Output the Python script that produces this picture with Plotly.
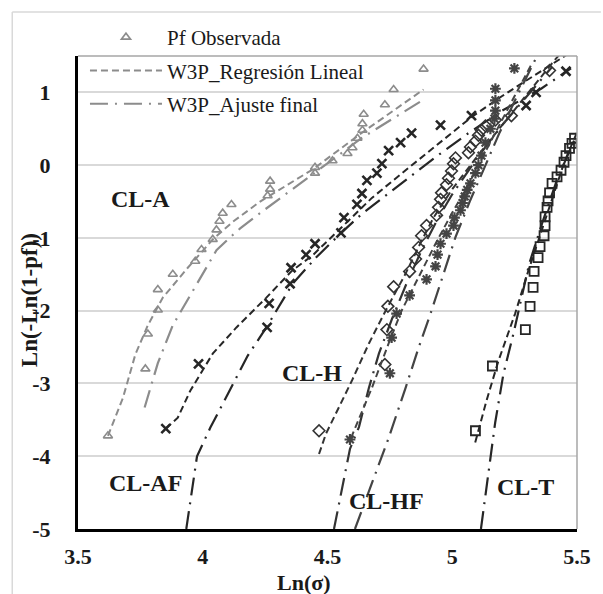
import plotly.graph_objects as go

# ---------------- data ----------------
# CL-A  (gray triangles)
cla_x = [3.62, 3.77, 3.78, 3.82, 3.82, 3.88, 3.97, 3.995, 4.04, 4.055, 4.067, 4.08, 4.115,
         4.26, 4.27, 4.27, 4.45, 4.45, 4.52, 4.58, 4.60, 4.62, 4.64, 4.64, 4.645, 4.73, 4.765, 4.885]
cla_y = [-3.72, -2.80, -2.32, -1.99, -1.71, -1.50, -1.32, -1.16, -1.02, -0.89, -0.77, -0.66, -0.54,
         -0.42, -0.33, -0.22, -0.11, -0.03, 0.06, 0.16, 0.24, 0.37, 0.48, 0.57, 0.70, 0.83, 1.04, 1.32]
cla_reg_x = [3.62, 3.68, 3.73, 3.78, 3.84, 3.94, 4.04, 4.12, 4.23, 4.44, 4.64, 4.885]
cla_reg_y = [-3.72, -3.20, -2.60, -2.20, -1.82, -1.41, -1.02, -0.78, -0.50, -0.06, 0.45, 1.04]
cla_fin_x = [3.767, 3.807, 3.82, 3.88, 3.96, 4.055, 4.107, 4.15, 4.245, 4.44, 4.64, 4.88]
cla_fin_y = [-3.33, -2.85, -2.72, -2.20, -1.72, -1.17, -1.00, -0.87, -0.62, -0.12, 0.38, 0.89]

# CL-AF (black x)
claf_x = [3.852, 3.983, 4.258, 4.266, 4.35, 4.354, 4.414, 4.45, 4.554, 4.566, 4.618, 4.638, 4.658,
          4.698, 4.718, 4.745, 4.793, 4.837, 4.953, 5.077, 5.296, 5.336, 5.456]
claf_y = [-3.62, -2.73, -2.23, -1.90, -1.63, -1.41, -1.23, -1.08, -0.93, -0.72, -0.54, -0.39, -0.21,
          -0.11, 0.02, 0.20, 0.31, 0.44, 0.55, 0.68, 0.82, 1.00, 1.29]
claf_reg_x = [3.852, 3.9, 3.95, 4.04, 4.135, 4.255, 4.358, 4.44, 4.558, 4.678, 4.813, 4.945, 5.077, 5.2, 5.33, 5.46]
claf_reg_y = [-3.62, -3.47, -3.10, -2.59, -2.23, -1.82, -1.45, -1.24, -0.85, -0.45, -0.07, 0.30, 0.66, 0.95, 1.23, 1.52]
claf_fin_x = [3.934, 3.977, 4.03, 4.107, 4.18, 4.255, 4.36, 4.454, 4.558, 4.638, 4.705, 4.813, 4.933,
              5.065, 5.2, 5.356, 5.476]
claf_fin_y = [-5.0, -4.0, -3.61, -3.10, -2.62, -2.23, -1.63, -1.27, -0.92, -0.67, -0.49, -0.21, 0.11,
              0.44, 0.75, 1.05, 1.33]

# CL-H (diamonds)
clh_x = [4.466, 4.73, 4.738, 4.742, 4.765, 4.829, 4.853, 4.865, 4.877, 4.897, 4.937, 4.945, 4.953, 4.957,
         4.977, 4.985, 4.997, 5.005, 5.013, 5.065, 5.073, 5.093, 5.105, 5.117, 5.133, 5.173, 5.237, 5.39]
clh_y = [-3.65, -2.74, -2.26, -1.94, -1.67, -1.46, -1.29, -1.13, -0.97, -0.83, -0.69, -0.58, -0.47, -0.38,
         -0.27, -0.18, -0.08, 0.02, 0.10, 0.17, 0.25, 0.33, 0.41, 0.48, 0.54, 0.62, 0.68, 1.30]
clh_reg_x = [4.466, 4.494, 4.598, 4.666, 4.733, 4.813, 4.877, 4.925, 5.0, 5.1, 5.2, 5.3, 5.4, 5.43]
clh_reg_y = [-3.97, -3.69, -2.96, -2.45, -2.00, -1.49, -1.04, -0.72, -0.33, 0.12, 0.55, 0.98, 1.40, 1.52]
clh_fin_x = [4.526, 4.566, 4.59, 4.626, 4.666, 4.706, 4.76, 4.82, 4.88, 4.94, 5.0, 5.1, 5.2, 5.3, 5.4]
clh_fin_y = [-5.0, -4.34, -3.90, -3.60, -3.06, -2.59, -2.10, -1.60, -1.15, -0.75, -0.40, 0.10, 0.55, 0.95, 1.35]

# CL-HF (asterisks)
clhf_x = [4.59, 4.75, 4.757, 4.777, 4.829, 4.897, 4.933, 4.941, 4.953, 4.977, 5.005, 5.009, 5.033, 5.041,
          5.05, 5.06, 5.073, 5.093, 5.105, 5.117, 5.133, 5.153, 5.169, 5.173, 5.173, 5.173, 5.249]
clhf_y = [-3.77, -2.86, -2.37, -2.04, -1.79, -1.57, -1.39, -1.23, -1.08, -0.94, -0.83, -0.72, -0.62, -0.52,
          -0.43, -0.34, -0.25, -0.11, 0.0, 0.13, 0.31, 0.50, 0.64, 0.75, 0.89, 1.05, 1.33]
clhf_reg_x = [4.594, 4.678, 4.745, 4.797, 4.865, 4.933, 4.997, 5.06, 5.12, 5.18, 5.25, 5.32]
clhf_reg_y = [-3.75, -3.06, -2.45, -2.00, -1.54, -1.08, -0.67, -0.30, 0.10, 0.50, 0.95, 1.40]
clhf_fin_x = [4.61, 4.686, 4.745, 4.813, 4.865, 4.913, 4.973, 5.013, 5.07, 5.13, 5.19, 5.26, 5.34]
clhf_fin_y = [-5.0, -4.30, -3.75, -3.06, -2.51, -2.04, -1.41, -0.99, -0.50, -0.02, 0.45, 0.95, 1.50]

# CL-T (squares)
clt_x = [5.093, 5.161, 5.293, 5.312, 5.324, 5.328, 5.344, 5.352, 5.368, 5.372, 5.372, 5.38, 5.384,
         5.39, 5.40, 5.42, 5.436, 5.448, 5.456, 5.47, 5.48, 5.49]
clt_y = [-3.65, -2.76, -2.26, -1.94, -1.68, -1.46, -1.27, -1.12, -0.97, -0.83, -0.71, -0.58, -0.49,
         -0.38, -0.25, -0.16, -0.07, 0.04, 0.13, 0.23, 0.30, 0.37]
clt_reg_x = [5.092, 5.137, 5.185, 5.252, 5.305, 5.344, 5.40, 5.45, 5.50]
clt_reg_y = [-3.81, -3.24, -2.69, -2.04, -1.45, -1.04, -0.45, 0.05, 0.45]
clt_fin_x = [5.115, 5.154, 5.172, 5.205, 5.245, 5.308, 5.36, 5.42, 5.49]
clt_fin_y = [-5.0, -4.0, -3.54, -2.87, -2.32, -1.36, -0.80, -0.20, 0.35]

# text labels
label_text = ["CL-A", "CL-H", "CL-AF", "CL-HF", "CL-T"]
label_x = [3.75, 4.436, 3.77, 4.735, 5.295]
label_y = [-0.47, -2.85, -4.37, -4.62, -4.42]

legend_names = ["Pf Observada", "W3P_Regresión Lineal", "W3P_Ajuste final"]

x_ticks = [3.5, 4, 4.5, 5, 5.5]
y_ticks = [-5, -4, -3, -2, -1, 0, 1]

# ---------------- styling ----------------
W, H = 603, 594
L, R, T, B = 78, 579, 56, 529
SERIF = "Liberation Serif"
REG_DASH = "7px,4px"
FIN_DASH = "18px,7px,2px,7px"


def px_x(p):
    return (p - L) / (R - L)


def px_y(p):
    return (B - p) / (B - T)


fig = go.Figure()

series = [
    # (obs x, obs y, reg x, reg y, fin x, fin y, color, symbol, size, lw)
    (cla_x, cla_y, cla_reg_x, cla_reg_y, cla_fin_x, cla_fin_y, "#8c8c8c", "triangle-up-open", 8, 1.6),
    (claf_x, claf_y, claf_reg_x, claf_reg_y, claf_fin_x, claf_fin_y, "#262626", "x-thin-open", 9, 2.6),
    (clh_x, clh_y, clh_reg_x, clh_reg_y, clh_fin_x, clh_fin_y, "#333333", "diamond-open", 9, 1.6),
    (clhf_x, clhf_y, clhf_reg_x, clhf_reg_y, clhf_fin_x, clhf_fin_y, "#444444", "asterisk-open", 9, 2.2),
    (clt_x, clt_y, clt_reg_x, clt_reg_y, clt_fin_x, clt_fin_y, "#262626", "square-open", 9, 1.8),
]

for i, (ox, oy, rx, ry, fx, fy, col, sym, sz, mlw) in enumerate(series):
    first = i == 0
    fig.add_trace(go.Scatter(
        x=ox, y=oy, mode="markers", name=legend_names[0], showlegend=first,
        legendgroup="g1", legendrank=1,
        marker=dict(symbol=sym, size=sz, color=col, line=dict(color=col, width=mlw))))
    fig.add_trace(go.Scatter(
        x=rx, y=ry, mode="lines", name=legend_names[1], showlegend=first,
        legendgroup="g2", legendrank=2,
        line=dict(color=col, width=2, dash=REG_DASH)))
    fig.add_trace(go.Scatter(
        x=fx, y=fy, mode="lines", name=legend_names[2], showlegend=first,
        legendgroup="g3", legendrank=3,
        line=dict(color=col, width=2.2, dash=FIN_DASH)))

for t, lx, ly in zip(label_text, label_x, label_y):
    fig.add_annotation(x=lx, y=ly, text="<b>%s</b>" % t, showarrow=False,
                       xanchor="center", yanchor="middle",
                       font=dict(family=SERIF, size=24, color="#1a1a1a"))

# axis titles as annotations (positioned like the reference)
fig.add_annotation(xref="paper", yref="paper", x=px_x(305), y=px_y(582), text="<b>Ln(σ)</b>",
                   xanchor="center", yanchor="middle", showarrow=False,
                   font=dict(family=SERIF, size=22, color="#1a1a1a"))
fig.add_annotation(xref="paper", yref="paper", x=px_x(29), y=px_y(300), text="<b>Ln(-Ln(1-pf))</b>",
                   xanchor="center", yanchor="middle", textangle=-90, showarrow=False,
                   font=dict(family=SERIF, size=23, color="#1a1a1a"))

# frame: gray top / right border of plot area, light outer chart border
fig.add_shape(type="line", xref="paper", yref="paper", x0=0, x1=1, y0=1, y1=1,
              line=dict(color="#a6a6a6", width=1.5), layer="above")
fig.add_shape(type="line", xref="paper", yref="paper", x0=1, x1=1, y0=0, y1=1,
              line=dict(color="#a6a6a6", width=1.5), layer="above")
fig.add_shape(type="line", xref="paper", yref="paper", x0=px_x(12), x1=px_x(603), y0=px_y(12), y1=px_y(12),
              line=dict(color="#d9d9d9", width=1.5), layer="below")
fig.add_shape(type="line", xref="paper", yref="paper", x0=px_x(12), x1=px_x(12), y0=px_y(12), y1=px_y(594),
              line=dict(color="#d9d9d9", width=1.5), layer="below")

fig.update_layout(
    width=W, height=H,
    margin=dict(l=L, r=W - R, t=T, b=H - B, pad=0),
    paper_bgcolor="white", plot_bgcolor="white",
    font=dict(family=SERIF, color="#1a1a1a"),
    showlegend=True,
    legend=dict(x=px_x(85), y=px_y(17), xanchor="left", yanchor="top",
                bgcolor="rgba(0,0,0,0)", font=dict(family=SERIF, size=21, color="#1a1a1a"),
                itemwidth=72, tracegroupgap=3, traceorder="grouped", itemclick=False),
    xaxis=dict(range=[3.5, 5.5], tickvals=x_ticks, ticktext=["<b>%g</b>" % v for v in x_ticks],
               showgrid=False, zeroline=False, showline=True, linecolor="#000000", linewidth=3,
               ticks="", ticklabelstandoff=6,
               tickfont=dict(family=SERIF, size=22, color="#1a1a1a")),
    yaxis=dict(range=[-5, 1.5], tickvals=y_ticks, ticktext=["<b>%g</b>" % v for v in y_ticks],
               showgrid=True, gridcolor="#d9d9d9", gridwidth=1.5, zeroline=False,
               showline=True, linecolor="#000000", linewidth=3,
               ticks="", ticklabelstandoff=20,
               tickfont=dict(family=SERIF, size=22, color="#1a1a1a")),
)

fig.write_html("out.html")
